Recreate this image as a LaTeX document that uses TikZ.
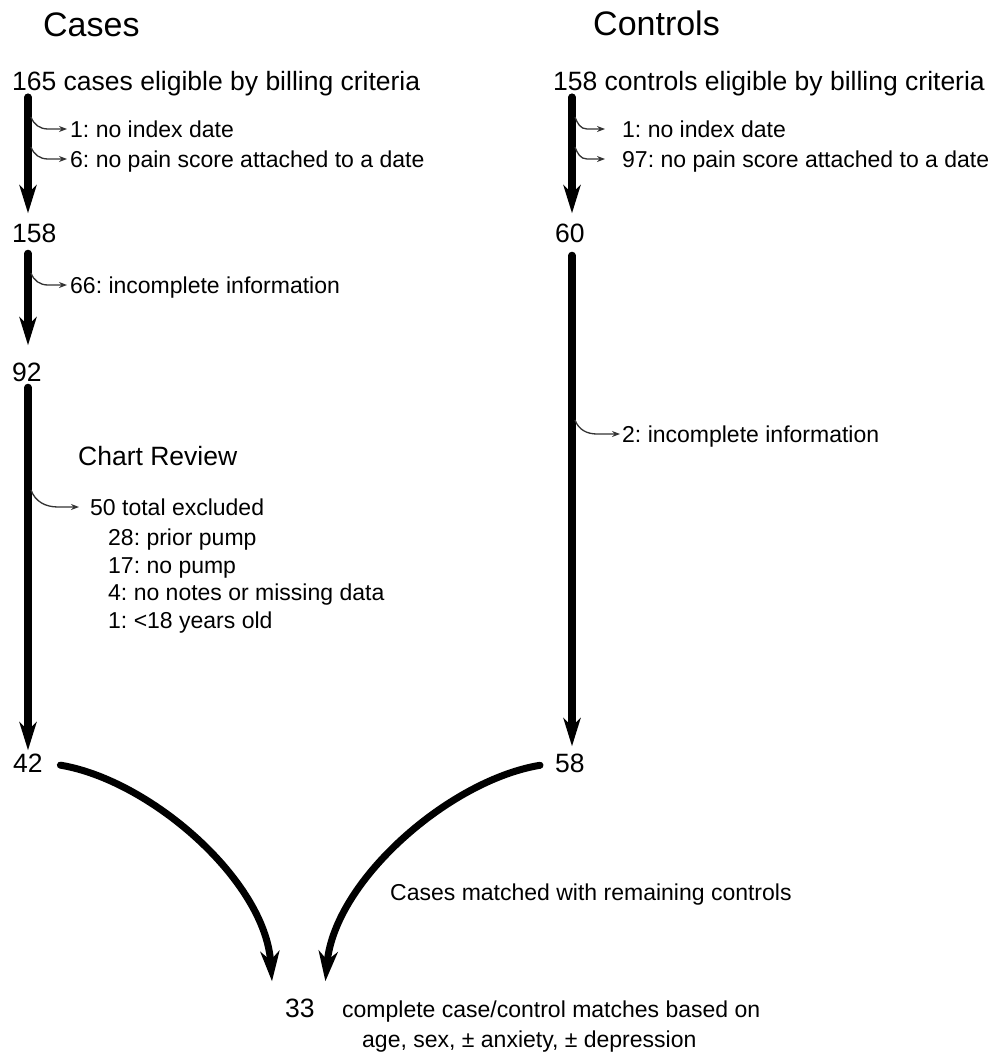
\documentclass[tikz,border=0pt]{standalone}
\usepackage{fontspec}
\setmainfont{Liberation Sans}
\usetikzlibrary{arrows.meta}
\frenchspacing
\begin{document}
\begin{tikzpicture}[x=1pt,y=-1pt,
  big/.style={font=\frenchspacing\fontsize{26.5}{30}\selectfont, inner sep=0pt, anchor=base west},
  ttl/.style={font=\frenchspacing\fontsize{34}{38}\selectfont, inner sep=0pt, anchor=base west},
  small/.style={font=\frenchspacing\fontsize{23}{27}\selectfont, inner sep=0pt, anchor=base west},
  trunk/.style={line width=7.5pt, line cap=round, -{Stealth[length=28pt,width=17pt,inset=8pt]}},
  branch/.style={line width=1.3pt, draw=black!80, -{Stealth[length=8pt,width=6pt]}},
  merge/.style={line width=7pt, line cap=round, -{Stealth[length=30pt,width=19pt,inset=9pt]}}]
\useasboundingbox (0,0) rectangle (994,1057);
% titles
\node[ttl] (tcases) at (43,37) {Cases};
\node[ttl] (tctrl) at (593,36) {Controls};
% left column
\node[big] (n165) at (12,90) {165 cases eligible by billing criteria};
\node[big] (n158) at (12,242) {158};
\node[big] (n92) at (12,381) {92};
\node[big] (n42) at (13,772) {42};
\node[small] (l1) at (70,137) {1: no index date};
\node[small] (l2) at (70,167) {6: no pain score attached to a date};
\node[small] (l3) at (70,293) {66: incomplete information};
\node[big] (chart) at (78,465) {Chart Review};
\node[small] (l4) at (90,515) {50 total excluded};
\node[small] (l5) at (108,545) {28: prior pump};
\node[small] (l6) at (108,573) {17: no pump};
\node[small] (l7) at (108,600) {4: no notes or missing data};
\node[small] (l8) at (108,628) {1: <18 years old};
% right column
\node[big] (c158) at (553,90) {158 controls eligible by billing criteria};
\node[big] (n60) at (555,242) {60};
\node[big] (n58) at (555,772) {58};
\node[small] (r1) at (622,137) {1: no index date};
\node[small] (r2) at (622,167) {97: no pain score attached to a date};
\node[small] (r3) at (622,442) {2: incomplete information};
% bottom
\node[small] (match) at (390,900) {Cases matched with remaining controls};
\node[big] (n33) at (285,1017) {33};
\node[small] (comp1) at (342,1017) {complete case/control matches based on};
\node[small] (comp2) at (362,1047) {age, sex, ± anxiety, ± depression};
% trunk x positions
\coordinate (lx) at (28,0);
\coordinate (rx) at (572,0);
% trunks
\draw[trunk, shorten <=1.5pt, shorten >=10pt] (n165.south -| lx) -- (n158.north -| lx);
\draw[trunk, shorten <=11pt, shorten >=17pt] (n158.south -| lx) -- (n92.north -| lx);
\draw[trunk, shorten <=6pt, shorten >=3pt] (n92.south -| lx) -- (n42.north -| lx);
\draw[trunk, shorten <=1.5pt, shorten >=10pt] (c158.south -| rx) -- (n60.north -| rx);
\draw[trunk, shorten <=13pt, shorten >=7pt] (n60.south -| rx) -- (n58.north -| rx);
% branch starts
\coordinate (b1) at (31,117);
\coordinate (b2) at (31,147);
\coordinate (b3) at (31,273);
\coordinate (b4) at (31,490);
\coordinate (rb1) at (575,117);
\coordinate (rb2) at (575,147);
\coordinate (rb3) at (575,420);
% branches
\draw[branch] (b1) to[out=-70,in=180] ([xshift=-22pt,yshift=8pt]l1.base west) -- ([xshift=-3pt,yshift=8pt]l1.base west);
\draw[branch] (b2) to[out=-70,in=180] ([xshift=-22pt,yshift=8pt]l2.base west) -- ([xshift=-3pt,yshift=8pt]l2.base west);
\draw[branch] (b3) to[out=-70,in=180] ([xshift=-22pt,yshift=8pt]l3.base west) -- ([xshift=-3pt,yshift=8pt]l3.base west);
\draw[branch] (b4) to[out=-70,in=180] ([xshift=-32pt,yshift=8pt]l4.base west) -- ([xshift=-11pt,yshift=8pt]l4.base west);
\draw[branch] (rb1) to[out=-70,in=180] ([xshift=-35pt,yshift=8pt]r1.base west) -- ([xshift=-17pt,yshift=8pt]r1.base west);
\draw[branch] (rb2) to[out=-70,in=180] ([xshift=-35pt,yshift=8pt]r2.base west) -- ([xshift=-17pt,yshift=8pt]r2.base west);
\draw[branch] (rb3) to[out=-70,in=180] ([xshift=-25pt,yshift=8pt]r3.base west) -- ([xshift=-2pt,yshift=8pt]r3.base west);
% merge curves
\draw[merge] ([xshift=17.5pt,yshift=-2.4pt]n42.east) .. controls (150,780) and (265,880) .. ([xshift=-13pt,yshift=17pt]n33.north west);
\draw[merge] ([xshift=-15pt,yshift=-2.4pt]n58.west) .. controls (450,780) and (335,880) .. ([xshift=10.5pt,yshift=17pt]n33.north east);
\end{tikzpicture}
\end{document}
